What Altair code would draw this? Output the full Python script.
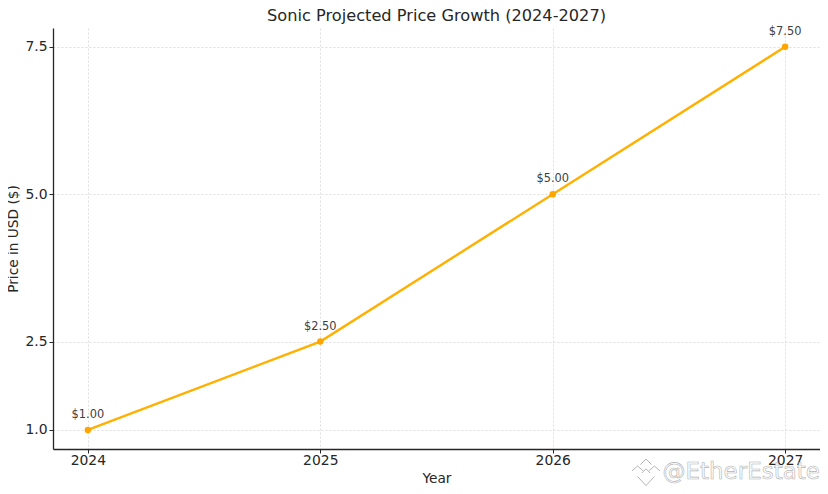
import altair as alt
import pandas as pd

years = [2024, 2025, 2026, 2027]
prices = [1.0, 2.5, 5.0, 7.5]
labels = ["$1.00", "$2.50", "$5.00", "$7.50"]
title_text = "Sonic Projected Price Growth (2024-2027)"
watermark = "@EtherEstate"
font = "DejaVu Sans"
df = pd.DataFrame({"year": years, "price": prices, "label": labels})

x = alt.X("year:Q", scale=alt.Scale(domain=[2023.85, 2027.15], nice=False, zero=False),
          axis=alt.Axis(values=years, format="d", title="Year", labelFontSize=13.9, titleFontSize=13.7,
                        labelPadding=0, titlePadding=5, titleFontWeight="normal", labelFlush=False,
                        grid=True, gridDash=[2, 2], gridColor="#d6d6d6", gridWidth=0.8,
                        domainColor="#262626", domainWidth=1.3, tickColor="#262626", tickSize=4,
                        labelColor="#262626", titleColor="#262626", labelFont=font, titleFont=font))
y = alt.Y("price:Q", scale=alt.Scale(domain=[0.677, 7.82], nice=False, zero=False),
          axis=alt.Axis(values=prices, format=".1f", title="Price in USD ($)", labelFontSize=13.9, titleFontSize=13.7,
                        labelPadding=2, titlePadding=4, titleFontWeight="normal",
                        grid=True, gridDash=[2, 2], gridColor="#d6d6d6", gridWidth=0.8,
                        domainColor="#262626", domainWidth=1.3, tickColor="#262626", tickSize=4,
                        labelColor="#262626", titleColor="#262626", labelFont=font, titleFont=font))

base = alt.Chart(df)
line = base.mark_line(color="#ffb000", strokeWidth=2.4).encode(x=x, y=y)
pts = base.mark_point(filled=True, color="#ffa500", size=42, opacity=1).encode(x=x, y=y)
txt = base.mark_text(font=font, fontSize=11.4, color="#404040", dy=-15).encode(x=x, y=y, text="label:N")

wm_df = pd.DataFrame({"t": [watermark]})
wm = alt.Chart(wm_df).mark_text(font=font, fontSize=23, align="right", baseline="middle",
                                fill="#ffffff", fillOpacity=0.6, stroke="#b4b4b4", strokeWidth=0.6).encode(
    x=alt.value(767), y=alt.value(444), text="t:N")
logo_path = "M-1,-0.15 L-0.6,-0.5 L-0.2,-0.15 M0.2,-0.15 L0.6,-0.5 L1,-0.15 M-0.4,-0.6 L0,-1 L0.4,-0.6 M-0.3,0 L0,-0.3 L0.3,0 M-0.6,0.25 L0,0.9 L0.6,0.25"
logo = alt.Chart(wm_df).mark_point(shape=logo_path, size=784, filled=False, stroke="#b5b5b5", strokeWidth=1, opacity=1).encode(
    x=alt.value(593), y=alt.value(445))

chart = (line + pts + txt + wm + logo).properties(
    width=767, height=421,
    padding={"left": 45, "top": 20, "right": 0, "bottom": 40},
    autosize=alt.AutoSizeParams(type="none"),
    background="white",
    title=alt.Title(title_text, font=font, fontSize=16.2, fontWeight="normal", color="#262626",
                    anchor="middle", offset=1.5),
).configure_view(stroke=None)

chart.save("out.html", embed_options={"renderer": "svg", "actions": False})
